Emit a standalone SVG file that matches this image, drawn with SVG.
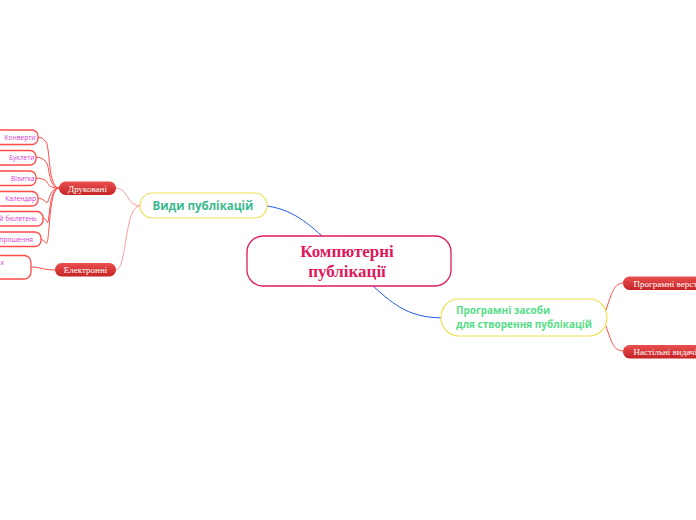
<svg xmlns="http://www.w3.org/2000/svg" width="696" height="520" viewBox="0 0 696 520">
<defs>
<linearGradient id="pill" x1="0" y1="0" x2="0" y2="1">
<stop offset="0" stop-color="#ea4f4f"/>
<stop offset="1" stop-color="#c42424"/>
</linearGradient>
<style>
.leaf rect{fill:#fff;stroke:#ff4a4a;stroke-width:1.3}
.leaf text{font-family:"Open Sans","DejaVu Sans",sans-serif;font-size:6.6px;fill:#d63bcf;text-anchor:end}
.pill rect{fill:url(#pill)}
.pill text{font-family:"Liberation Serif","Times New Roman",serif;font-size:9px;fill:#fff}
.main rect{fill:#fff;stroke:#f0e05a;stroke-width:1.2}
.main text{font-family:"Open Sans","DejaVu Sans",sans-serif;font-weight:bold}
.red{fill:none;stroke:#ff4a4a;stroke-width:1}
.pink{fill:none;stroke:#f7a3a3;stroke-width:1}
.blue{fill:none;stroke:#2358f0;stroke-width:1}
</style>
</defs>
<rect width="696" height="520" fill="#fff"/>
<g id="connectors">
<path class="blue" d="M252,205 C285,205 302,218 322,236"/>
<path class="blue" d="M373,286 C395,306 410,318 445,318"/>
<path class="pink" d="M140,206 C127,206 128,188 116,188"/>
<path class="pink" d="M140,206 C124,206 127,270 116,270"/>
<path class="red" d="M606,310 C612,292 614,283 624,283"/>
<path class="red" d="M606,326 C612,344 614,351 624,351"/>
<path class="red" d="M59,188 C48,188 50,146 46,142 C44,139 41,137 37,137"/>
<path class="red" d="M59,188 C48,188 50,166 46,162 C44,159 40,157 36,157"/>
<path class="red" d="M59,188 C48,188 49,184 46,181 C44,179 40,178 35,178"/>
<path class="red" d="M59,188 C48,188 49,207 46,202 C44,200 41,198 37,198"/>
<path class="red" d="M59,188 C48,188 50,227 47,222 C46,220 45,218 42,218"/>
<path class="red" d="M59,188 C48,188 50,248 46,243 C44,241 42,239 40,239"/>
<path class="red" d="M55,270 C44,270 40,267 31,267"/>
</g>
<g id="central">
<rect x="247" y="236" width="204" height="50" rx="16" fill="#fff" stroke="#e0185c" stroke-width="1.3"/>
<text x="347" y="257" text-anchor="middle" font-family="Liberation Serif,'Times New Roman',serif" font-weight="bold" font-size="17" fill="#e0185c">Компютерні</text>
<text x="347" y="277" text-anchor="middle" font-family="Liberation Serif,'Times New Roman',serif" font-weight="bold" font-size="17" fill="#e0185c">публікації</text>
</g>
<g id="vydy" class="main">
<rect x="140" y="193" width="127" height="25" rx="12.5"/>
<text x="203" y="210" text-anchor="middle" font-size="11.5" fill="#3bb98f">Види публікацій</text>
</g>
<g id="prohramni" class="main">
<rect x="441" y="299" width="166" height="37" rx="18"/>
<text x="456" y="314" font-size="10" fill="#55dd88">Програмні засоби</text>
<text x="456" y="328" font-size="10" fill="#55dd88">для створення публікацій</text>
</g>
<g id="drukovani" class="pill">
<rect x="59" y="181.5" width="57" height="13.5" rx="6.5"/>
<text x="87.5" y="191.5" text-anchor="middle">Друковані</text>
</g>
<g id="elektronni" class="pill">
<rect x="55" y="263" width="61" height="13.5" rx="6.5"/>
<text x="85.5" y="273" text-anchor="middle">Електронні</text>
</g>
<g id="verstky" class="pill">
<rect x="623" y="276.5" width="90" height="13.5" rx="6.5"/>
<text x="633.5" y="286.5" font-size="7.9">Програмні верстки</text>
</g>
<g id="nastilni" class="pill">
<rect x="623" y="345" width="90" height="13.5" rx="6.5"/>
<text x="633.5" y="355" font-size="7.9">Настільні видачі с</text>
</g>
<g id="konverty" class="leaf">
<rect x="-20" y="130" width="58" height="14.5" rx="6"/>
<text x="35.5" y="139.5">Конверти</text>
</g>
<g id="buklety" class="leaf">
<rect x="-20" y="150.5" width="56" height="14.5" rx="6"/>
<text x="34.5" y="160">Буклети</text>
</g>
<g id="vizytka" class="leaf">
<rect x="-20" y="171" width="56" height="14.5" rx="6"/>
<text x="34.5" y="180.5">Візитка</text>
</g>
<g id="kalendar" class="leaf">
<rect x="-20" y="191.5" width="58" height="14.5" rx="6"/>
<text x="36" y="201">Календар</text>
</g>
<g id="biuleten" class="leaf">
<rect x="-20" y="211.5" width="63" height="14.5" rx="6"/>
<text x="37" y="221">ий бюлетень</text>
</g>
<g id="zaproshennia" class="leaf">
<rect x="-20" y="232" width="61" height="14.5" rx="6"/>
<text x="33" y="241.5">прошення</text>
</g>
<g id="elektr-leaf" class="leaf">
<rect x="-20" y="255.5" width="51" height="23.5" rx="7"/>
<text x="4" y="264.5">х</text>
</g>
</svg>
